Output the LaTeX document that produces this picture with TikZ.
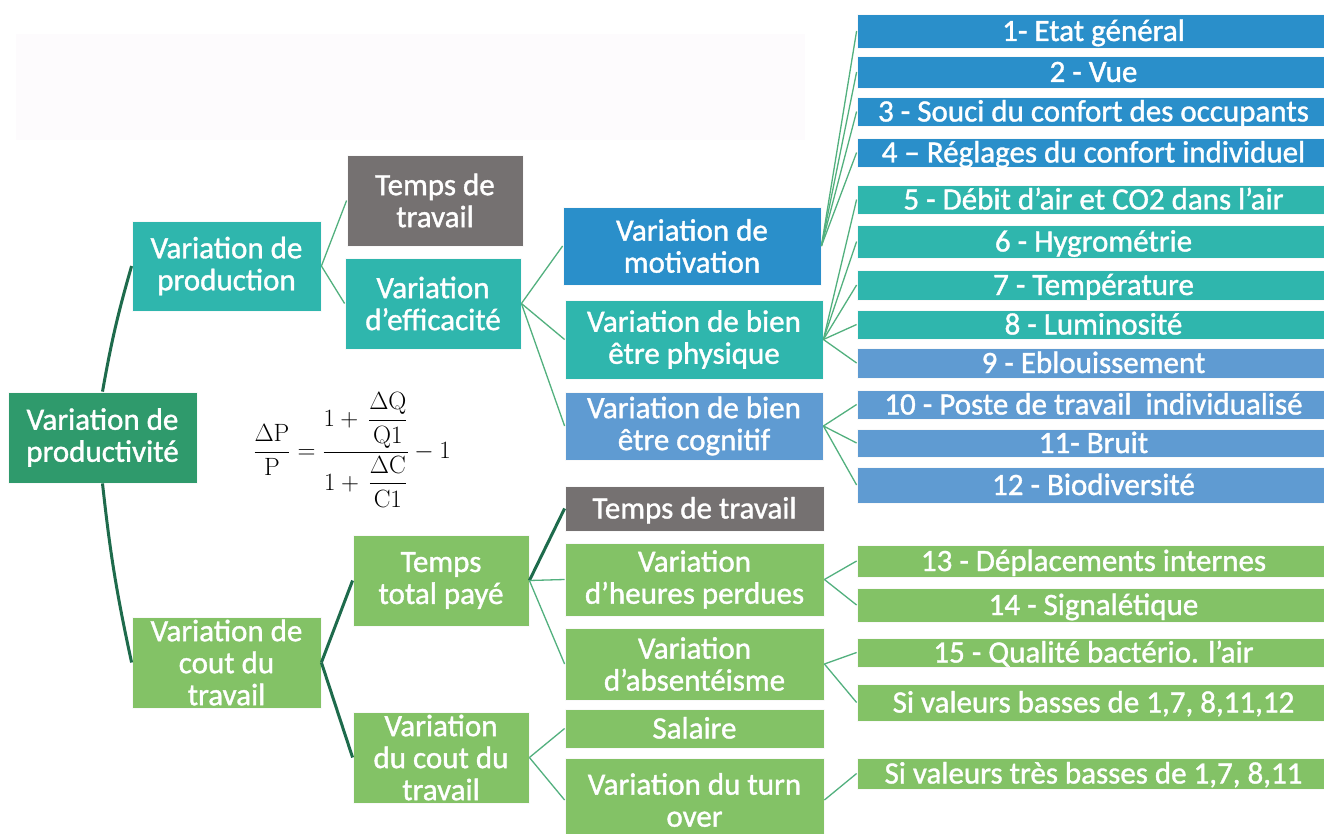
\documentclass[tikz,border=0pt]{standalone}
\usepackage{amsmath}
\usepackage{fontspec}
\newfontfamily\carl[FakeBold=1.2]{Carlito}
\definecolor{cteal}{HTML}{2FB6AD}
\definecolor{cblue}{HTML}{2A8FCA}
\definecolor{clblue}{HTML}{5F9BD2}
\definecolor{cgreen}{HTML}{83C266}
\definecolor{cdkgreen}{HTML}{2F9A6C}
\definecolor{cgray}{HTML}{757171}
\definecolor{cthin}{HTML}{52B07E}
\definecolor{cthick}{HTML}{1E6B4C}
\definecolor{cfaint}{HTML}{FDFBFD}
\begin{document}
\begin{tikzpicture}[x=1pt,y=-1pt,
  box/.style={rectangle, inner sep=0pt, text=white, align=center,
    draw=white!75!black!10, line width=0.8pt,
    font=\carl\fontsize{31}{32}\selectfont},
  row/.style={box, minimum width=473pt, text height=22pt, text depth=2pt},
  thinl/.style={draw=cthin, line width=1.3pt},
  thickl/.style={draw=cthick, line width=3pt}]
\clip (0,0) rectangle (1324,834);
\fill[white] (0,0) rectangle (1324,834);
\fill[cfaint] (16,34) rectangle (805,140);

% level 0
\node[box, fill=cdkgreen, minimum width=189pt, minimum height=91pt] (pty) at (102.5,437.5) {Variation de\\productivité};
% level 1
\node[box, fill=cteal, minimum width=189pt, minimum height=90pt] (prodn) at (226.5,266) {Variation de\\production};
\node[box, fill=cgreen, minimum width=189pt, minimum height=91pt] (cout) at (226.5,662.5) {Variation de\\cout du\\travail};
% level 2
\node[box, fill=cgray, minimum width=176pt, minimum height=91pt] (ttop) at (435,200.5) {Temps de\\travail};
\node[box, fill=cteal, minimum width=176pt, minimum height=91pt] (eff) at (433,303.5) {Variation\\d’efficacité};
\node[box, fill=cgreen, minimum width=176pt, minimum height=91pt] (ttp) at (441,580.5) {Temps\\total payé};
\node[box, fill=cgreen, minimum width=176pt, minimum height=91pt] (vct) at (441,757.5) {Variation\\du cout du\\travail};
% level 3
\node[box, fill=cblue, minimum width=258pt, minimum height=78pt] (motiv) at (692,246) {Variation de\\motivation};
\node[box, fill=cteal, minimum width=258pt, minimum height=79pt] (phys) at (694,339.5) {Variation de bien\\être physique};
\node[box, fill=clblue, minimum width=258pt, minimum height=68pt] (cogn) at (694,426) {Variation de bien\\être cognitif};
\node[box, fill=cgray, minimum width=259pt, minimum height=45pt, text height=22pt, text depth=2pt] (tlow) at (694.5,508.5) {Temps de travail};
\node[box, fill=cgreen, minimum width=259pt, minimum height=73pt] (heures) at (694.5,579.5) {Variation\\d’heures perdues};
\node[box, fill=cgreen, minimum width=259pt, minimum height=72pt] (absent) at (694.5,664) {Variation\\d’absentéisme};
\node[box, fill=cgreen, minimum width=259pt, minimum height=39pt, text height=22pt, text depth=2pt] (salaire) at (694.5,728.5) {Salaire};
\node[box, fill=cgreen, minimum width=259pt, minimum height=84pt] (turn) at (694.5,800) {Variation du turn\\over};
% right column
\node[row, fill=cblue, minimum height=34pt] (r1) at (1093.5,31) {1- Etat général};
\node[row, fill=cblue, minimum height=32pt] (r2) at (1093.5,72) {2 - Vue};
\node[row, fill=cblue, minimum height=29pt] (r3) at (1093.5,111.5) {3 - Souci du confort des occupants};
\node[row, fill=cblue, minimum height=29pt] (r4) at (1093.5,152.5) {4 – Réglages du confort individuel};
\node[row, fill=cteal, minimum height=29pt] (r5) at (1093.5,199.5) {5 - Débit d’air et CO2 dans l’air};
\node[row, fill=cteal, minimum height=33pt] (r6) at (1093.5,241.5) {6 - Hygrométrie};
\node[row, fill=cteal, minimum height=30pt] (r7) at (1093.5,285) {7 - Température};
\node[row, fill=cteal, minimum height=29pt] (r8) at (1093.5,324.5) {8 - Luminosité};
\node[row, fill=clblue, minimum height=30pt] (r9) at (1093.5,363) {9 - Eblouissement};
\node[row, fill=clblue, minimum height=29pt] (r10) at (1093.5,404.5) {10 - Poste de travail~ individualisé};
\node[row, fill=clblue, minimum height=28pt] (r11) at (1093.5,443) {11- Bruit};
\node[row, fill=clblue, minimum height=36pt] (r12) at (1093.5,485) {12 - Biodiversité};
\node[row, fill=cgreen, minimum height=32pt] (r13) at (1093.5,561) {13 - Déplacements internes};
\node[row, fill=cgreen, minimum height=34pt] (r14) at (1093.5,605) {14 - Signalétique};
\node[row, fill=cgreen, minimum height=29pt] (r15) at (1093.5,652.5) {15 - Qualité bactério. l’air};
\node[row, fill=cgreen, minimum height=37pt] (rb) at (1093.5,702.5) {Si valeurs basses de 1,7, 8,11,12};
\node[row, fill=cgreen, minimum height=31pt] (rtb) at (1093.5,773.5) {Si valeurs très basses de 1,7, 8,11};

% formula
\node[inner sep=0pt, font=\fontsize{25}{28}\selectfont] (formula) at (352,450)
  {$\dfrac{\Delta\mathrm{P}}{\mathrm{P}}=\dfrac{1+\,\dfrac{\Delta\mathrm{Q}}{\mathrm{Q1}}}{1+\,\dfrac{\Delta\mathrm{C}}{\mathrm{C1}}}-1$};

% connectors thick
\draw[thickl] (pty.north) to[bend left=3] (prodn.west);
\draw[thickl] (pty.south) to[bend right=3] (cout.west);
\draw[thickl] (cout.east) -- (ttp.west);
\draw[thickl] (cout.east) -- (vct.west);
\draw[thickl] (ttp.east) -- (tlow.west);
% thin
\draw[thinl] (prodn.east) -- (ttop.west);
\draw[thinl] (prodn.east) -- (eff.west);
\draw[thinl] (eff.east) -- (motiv.west);
\draw[thinl] (eff.east) -- (phys.west);
\draw[thinl] (eff.east) -- (cogn.west);
\draw[thinl] (ttp.east) -- (heures.west);
\draw[thinl] (ttp.east) -- (absent.west);
\draw[thinl] (vct.east) -- (salaire.west);
\draw[thinl] (vct.east) -- (turn.west);
\foreach \r in {r1,r2,r3,r4} \draw[thinl] (motiv.east) -- (\r.west);
\foreach \r in {r5,r6,r7,r8,r9} \draw[thinl] (phys.east) -- (\r.west);
\foreach \r in {r10,r11,r12} \draw[thinl] (cogn.east) -- (\r.west);
\draw[thinl] (heures.east) -- (r13.west);
\draw[thinl] (heures.east) -- (r14.west);
\draw[thinl] (absent.east) -- (r15.west);
\draw[thinl] (absent.east) -- (rb.west);
\draw[thinl] (turn.east) -- (rtb.west);
\end{tikzpicture}
\end{document}
